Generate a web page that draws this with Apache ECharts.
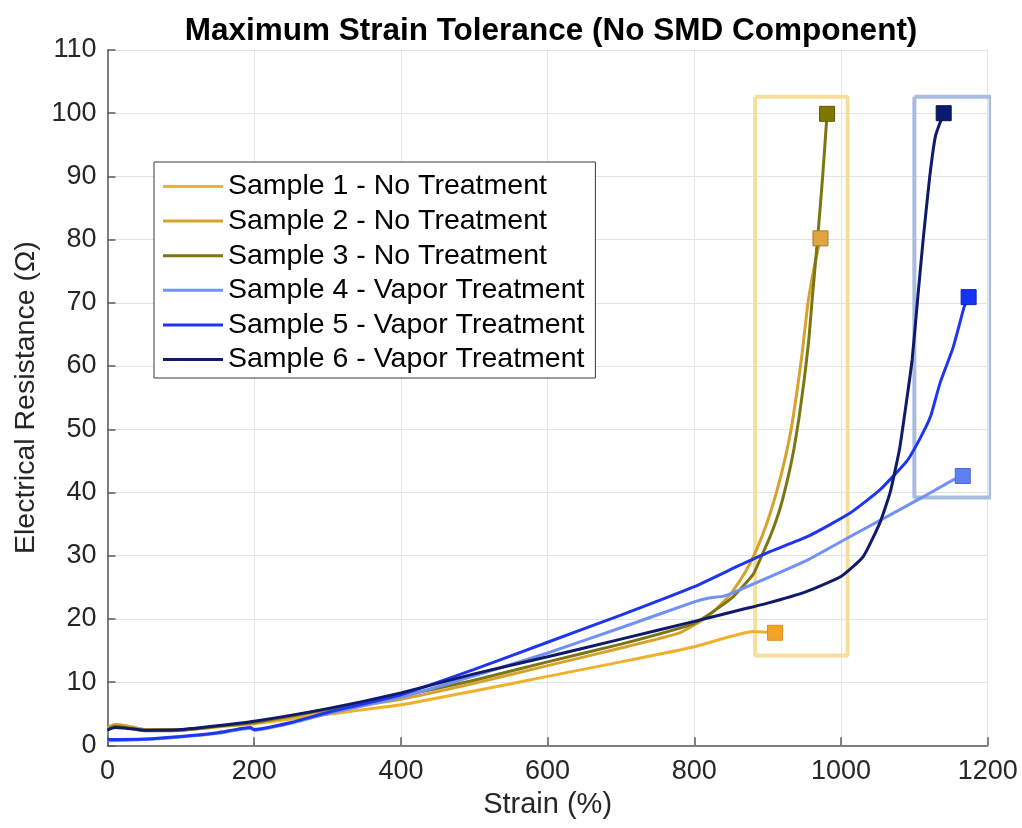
<!DOCTYPE html>
<html>
<head>
<meta charset="utf-8">
<title>Maximum Strain Tolerance (No SMD Component)</title>
<script src="https://cdn.jsdelivr.net/npm/echarts@6/dist/echarts.min.js"></script>
<style>
  html, body { margin: 0; padding: 0; background: #ffffff; }
  #chart { width: 1022px; height: 828px; }
</style>
</head>
<body>
<div id="chart"></div>
<script>
// Strain (%) vs electrical resistance (Ω) for each sample, [strain, resistance]
const sample1 = [[0,2.6],[10,3.2],[25,3.1],[50,2.5],[100,2.4],[150,2.9],[200,3.4],[300,4.9],[400,6.4],[500,8.6],[600,10.9],[700,13.2],[800,15.6],[880,18.0],[910,17.8]];
const sample2 = [[0,2.8],[10,3.3],[25,3.1],[50,2.5],[100,2.5],[150,3.0],[200,3.5],[300,5.5],[400,7.3],[500,9.8],[600,12.6],[700,15.4],[780,17.8],[820,20.5],[850,24.0],[870,27.5],[885,31.0],[900,35.5],[912,40.0],[923,45.0],[932,50.0],[940,56.0],[947,62.0],[955,70.0],[964,76.0],[972,80.2]];
const sample3 = [[0,2.5],[10,3.0],[25,2.8],[50,2.3],[100,2.4],[150,3.0],[200,3.6],[300,5.7],[400,7.8],[500,10.3],[600,13.2],[700,16.0],[800,19.3],[850,23.2],[880,27.0],[892,30.0],[905,33.5],[917,37.5],[928,42.5],[936,47.0],[943,52.0],[950,58.0],[956,64.0],[961,71.0],[968,80.0],[975,90.0],[981,99.9]];
const sample4 = [[0,0.7],[50,0.9],[100,1.3],[150,1.9],[195,2.7],[200,2.4],[250,3.5],[300,5.0],[400,7.6],[500,11.0],[600,14.6],[700,18.6],[800,22.7],[820,23.3],[840,23.6],[862,24.6],[954,29.3],[1012,33.0],[1112,39.3],[1153,42.0],[1166,42.6]];
const sample5 = [[0,0.9],[50,1.0],[100,1.4],[150,2.0],[195,2.8],[200,2.5],[250,3.6],[300,5.2],[400,8.0],[500,12.0],[600,16.3],[700,20.6],[800,25.1],[862,28.5],[900,30.5],[954,33.0],[1012,36.7],[1053,40.4],[1090,45.0],[1108,48.6],[1122,52.0],[1135,57.3],[1153,63.0],[1168,69.4],[1174,70.9]];
const sample6 = [[0,2.4],[10,2.8],[25,2.7],[50,2.4],[100,2.5],[150,3.1],[200,3.8],[300,5.8],[400,8.3],[500,11.3],[600,14.0],[700,16.8],[800,19.6],[862,21.4],[900,22.5],[950,24.2],[1000,26.7],[1030,29.8],[1053,35.2],[1067,40.0],[1080,47.0],[1090,55.0],[1097,61.0],[1104,70.0],[1112,80.0],[1121,90.0],[1129,96.5],[1140,100.0]];

const sampleNames = [
  'Sample 1 - No Treatment',
  'Sample 2 - No Treatment',
  'Sample 3 - No Treatment',
  'Sample 4 - Vapor Treatment',
  'Sample 5 - Vapor Treatment',
  'Sample 6 - Vapor Treatment'
];
const sampleData = [sample1, sample2, sample3, sample4, sample5, sample6];

// Failure regions: [[xMin, xMax], [yMin, yMax]]
const untreatedFailureZone = [[883, 1009], [14.2, 102.6]];
const vaporFailureZone = [[1100, 1204], [39.2, 102.6]];

const xTicks = { min: 0, max: 1200, interval: 200 };
const yTicks = { min: 0, max: 110, interval: 10 };

const lineColors = ['#EFB02A', '#D6A22C', '#7C7612', '#7192F4', '#1E36F0', '#0F1A6C'];
const markerFill = ['#F2A428', '#E0A440', '#7F7700', '#5E80F2', '#1434F4', '#0A1A70'];
const markerEdge = ['#D89020', '#A8782A', '#5E5800', '#4A68D8', '#0E24C0', '#061050'];

function rectPath(zone) {
  const [[x0, x1], [y0, y1]] = zone;
  return [[x0, y1], [x1, y1], [x1, y0], [x0, y0], [x0, y1]];
}

const series = [];
series.push({
  name: 'untreated-zone', type: 'line', data: rectPath(untreatedFailureZone),
  symbol: 'none', clip: false, silent: true, z: 1,
  lineStyle: { color: '#F6DE9C', width: 4 }
});
series.push({
  name: 'vapor-zone', type: 'line', data: rectPath(vaporFailureZone),
  symbol: 'none', clip: false, silent: true, z: 1,
  lineStyle: { color: '#A8BCE0', width: 4 }
});
sampleData.forEach((d, i) => {
  series.push({
    name: sampleNames[i], type: 'line', data: d,
    symbol: 'none', smooth: 0.15, z: 3,
    lineStyle: { color: lineColors[i], width: 3 },
    itemStyle: { color: lineColors[i] }
  });
});
sampleData.forEach((d, i) => {
  series.push({
    name: sampleNames[i] + ' end', type: 'scatter', data: [d[d.length - 1]],
    symbol: 'rect', symbolSize: 15, z: 4, clip: false,
    itemStyle: { color: markerFill[i], borderColor: markerEdge[i], borderWidth: 1, opacity: 1 }
  });
});

const font = 'Liberation Sans, Arial, Helvetica, sans-serif';
const chart = echarts.init(document.getElementById('chart'), null, { renderer: 'canvas' });
chart.setOption({
  backgroundColor: '#ffffff',
  animation: false,
  title: {
    text: 'Maximum Strain Tolerance (No SMD Component)',
    left: 546, textAlign: 'center', top: 10,
    textStyle: { fontFamily: font, fontSize: 31.5, fontWeight: 'bold', color: '#000000' }
  },
  grid: { left: 107.5, right: 34.3, top: 50, bottom: 82.7, containLabel: false },
  legend: {
    data: sampleNames,
    orient: 'vertical',
    left: 154, top: 162,
    padding: [10, 11, 4, 9],
    itemGap: 5.6,
    itemWidth: 60, itemHeight: 3,
    icon: 'rect',
    backgroundColor: '#ffffff',
    borderColor: '#3a3a3a', borderWidth: 1,
    textStyle: { fontFamily: font, fontSize: 28.5, color: '#000000', lineHeight: 28 }
  },
  xAxis: {
    type: 'value', min: xTicks.min, max: xTicks.max, interval: xTicks.interval,
    name: 'Strain (%)', nameLocation: 'middle', nameGap: 45,
    nameTextStyle: { fontFamily: font, fontSize: 29, color: '#262626' },
    axisLine: { show: true, onZero: false, lineStyle: { color: '#5a5a5a', width: 1.5 } },
    axisTick: { show: true, inside: true, length: 8, lineStyle: { color: '#5a5a5a', width: 1.5 } },
    axisLabel: { fontFamily: font, fontSize: 27, color: '#262626', margin: 13, formatter: v => String(v) },
    splitLine: { show: true, lineStyle: { color: '#e4e4e4', width: 1 } }
  },
  yAxis: {
    type: 'value', min: yTicks.min, max: yTicks.max, interval: yTicks.interval,
    name: 'Electrical Resistance (Ω)', nameLocation: 'middle', nameGap: 66, nameRotate: 90,
    nameTextStyle: { fontFamily: font, fontSize: 28.5, color: '#262626' },
    axisLine: { show: true, onZero: false, lineStyle: { color: '#5a5a5a', width: 1.5 } },
    axisTick: { show: true, inside: true, length: 8, lineStyle: { color: '#5a5a5a', width: 1.5 } },
    axisLabel: { fontFamily: font, fontSize: 27, color: '#262626', margin: 11, formatter: v => String(v) },
    splitLine: { show: true, lineStyle: { color: '#e4e4e4', width: 1 } }
  },
  series: series
});
</script>
</body>
</html>
